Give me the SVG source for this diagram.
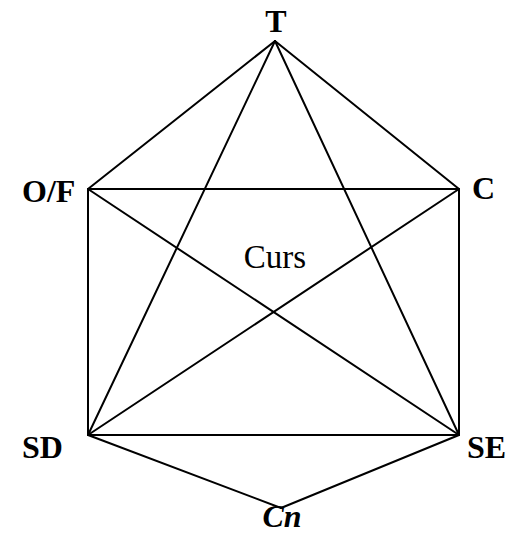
<svg xmlns="http://www.w3.org/2000/svg" width="518" height="533" viewBox="0 0 518 533">
<style>
.e{stroke:#000;stroke-width:2;fill:none;stroke-linecap:round}
.l{font-family:"Liberation Serif",serif;font-size:32px;font-weight:bold;fill:#000}
</style>
<rect width="518" height="533" fill="#fff"/>
<g id="connectors">
<line class="e" x1="275" y1="41" x2="88" y2="189"/>
<line class="e" x1="275" y1="41" x2="459" y2="189"/>
<line class="e" x1="275" y1="41" x2="88" y2="435"/>
<line class="e" x1="275" y1="41" x2="459" y2="435"/>
<line class="e" x1="88" y1="189" x2="459" y2="189"/>
<line class="e" x1="88" y1="189" x2="88" y2="435"/>
<line class="e" x1="459" y1="189" x2="459" y2="435"/>
<line class="e" x1="88" y1="189" x2="459" y2="435"/>
<line class="e" x1="459" y1="189" x2="88" y2="435"/>
<line class="e" x1="88" y1="435" x2="459" y2="435"/>
<line class="e" x1="88" y1="435" x2="281" y2="508"/>
<line class="e" x1="459" y1="435" x2="281" y2="508"/>
</g>
<g id="T"><text class="l" x="276" y="32" text-anchor="middle">T</text></g>
<g id="OF"><text class="l" x="22" y="202">O/F</text></g>
<g id="C"><text class="l" x="472" y="199">C</text></g>
<g id="SD"><text class="l" x="22" y="458">SD</text></g>
<g id="SE"><text class="l" x="467" y="458">SE</text></g>
<g id="Cn"><text class="l" x="282" y="527" text-anchor="middle" font-style="italic" font-size="21">Cn</text></g>
<g id="Curs"><text x="275" y="268" text-anchor="middle" font-family="'Liberation Serif',serif" font-size="33">Curs</text></g>
</svg>
